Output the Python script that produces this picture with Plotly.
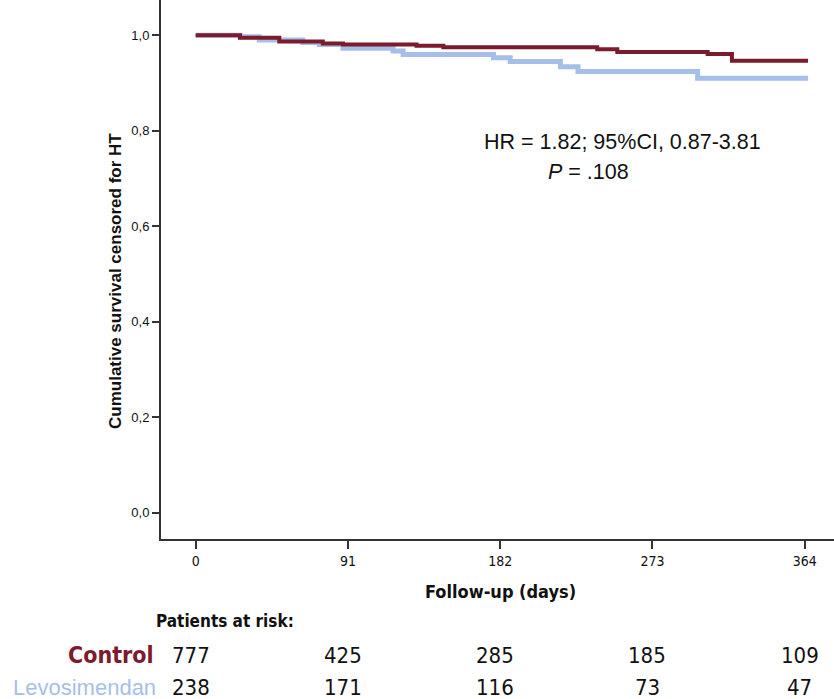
import plotly.graph_objects as go

# ---- data ----
control_days = [0, 26.5, 50, 76, 88, 132, 148, 240, 252, 306, 320.5, 366]
control_surv = [1.0, 0.995, 0.987, 0.983, 0.981, 0.978, 0.975, 0.971, 0.965, 0.961, 0.947, 0.947]

levo_days = [0, 26.5, 38, 64, 74, 88, 118, 124, 178, 188, 218, 228.5, 300, 366]
levo_surv = [1.0, 0.997, 0.990, 0.985, 0.981, 0.973, 0.967, 0.960, 0.953, 0.945, 0.934, 0.924, 0.910, 0.910]

x_ticks = [0, 91, 182, 273, 364]
y_ticks = [0.0, 0.2, 0.4, 0.6, 0.8, 1.0]
y_ticklabels = ["0,0", "0,2", "0,4", "0,6", "0,8", "1,0"]

risk_control = [777, 425, 285, 185, 109]
risk_levo = [238, 171, 116, 73, 47]

CONTROL_COLOR = "#7B1B2D"
LEVO_COLOR = "#A6BFE8"

fig = go.Figure()
fig.add_trace(go.Scatter(x=levo_days, y=levo_surv, mode="lines",
                         line=dict(shape="hv", color=LEVO_COLOR, width=5),
                         name="Levosimendan", showlegend=False))
fig.add_trace(go.Scatter(x=control_days, y=control_surv, mode="lines",
                         line=dict(shape="hv", color=CONTROL_COLOR, width=4),
                         name="Control", showlegend=False))

PLOT_L, PLOT_R, PLOT_H = 161.0, 834.0, 539.0
def py(pix):
    return (PLOT_H - pix) / PLOT_H
def px(pix):
    return (pix - PLOT_L) / (PLOT_R - PLOT_L)

COND = "DejaVu Sans Condensed, DejaVu Sans"
ARIAL = "Liberation Sans, Arial"

ann = []
ann.append(dict(text="<b>Cumulative survival censored for HT</b>", x=px(115), y=py(281),
                textangle=-90, font=dict(family=ARIAL, size=17, color="#111")))
ann.append(dict(text="<b>Follow-up (days)</b>", x=px(500), y=py(591),
                font=dict(family=COND, size=18, color="#111")))
ann.append(dict(text="HR = 1.82; 95%CI, 0.87-3.81", x=px(622), y=py(142),
                font=dict(family=ARIAL, size=21.5, color="#111")))
ann.append(dict(text="<i>P</i> = .108", x=px(588), y=py(172),
                font=dict(family=ARIAL, size=21.5, color="#111")))
ann.append(dict(text="<b>Patients at risk:</b>", x=px(154), y=py(621), xanchor="left",
                font=dict(family=COND, size=17, color="#111")))
ann.append(dict(text="<b>Control</b>", x=px(156), y=py(655), xanchor="right",
                font=dict(family=COND, size=23, color=CONTROL_COLOR)))
ann.append(dict(text="Levosimendan", x=px(158), y=py(687), xanchor="right",
                font=dict(family=ARIAL, size=22, color=LEVO_COLOR)))

x0_pix, x_scale = 195.7, 1.673
for t, c, l in zip(x_ticks, risk_control, risk_levo):
    cx = px(x0_pix + (t - 3) * x_scale)
    ann.append(dict(text=str(c), x=cx, y=py(655), font=dict(family=COND, size=22, color="#111")))
    ann.append(dict(text=str(l), x=cx, y=py(687), font=dict(family=COND, size=22, color="#111")))

for a in ann:
    a.setdefault("xref", "paper")
    a.setdefault("yref", "paper")
    a.setdefault("showarrow", False)
    a.setdefault("xanchor", "center")
    a.setdefault("yanchor", "middle")

fig.update_layout(
    width=834, height=699,
    margin=dict(l=161, r=0, t=0, b=160),
    paper_bgcolor="white", plot_bgcolor="white",
    annotations=ann,
    showlegend=False,
)
fig.update_xaxes(range=[-20.7, 381.5], tickvals=x_ticks, ticktext=[str(v) for v in x_ticks],
                 showgrid=False, zeroline=False, showline=True, linecolor="#333", linewidth=2,
                 ticks="outside", ticklen=8, tickwidth=2, tickcolor="#333",
                 tickfont=dict(family=COND, size=14, color="#111"))
fig.update_yaxes(range=[-0.055, 1.074], tickvals=y_ticks, ticktext=y_ticklabels,
                 showgrid=False, zeroline=False, showline=True, linecolor="#333", linewidth=2,
                 ticks="outside", ticklen=7, tickwidth=2, tickcolor="#333",
                 tickfont=dict(family=ARIAL, size=13, color="#111"))

fig.write_html("out.html", config={"displayModeBar": False},
               post_script="document.body.style.margin='0';")
